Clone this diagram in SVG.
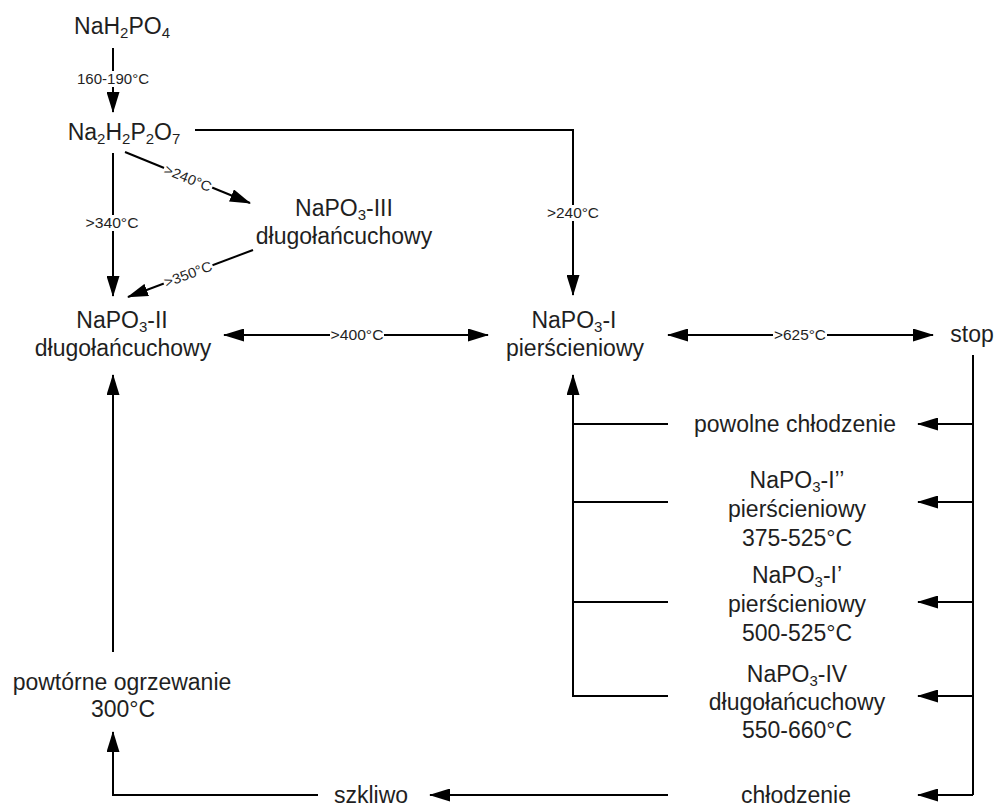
<svg xmlns="http://www.w3.org/2000/svg" width="995" height="807" viewBox="0 0 995 807">
<style>
.t{font-family:"Liberation Sans",Arial,sans-serif;font-size:23px;fill:#1f1f1f;text-anchor:middle}
.s{font-family:"Liberation Sans",Arial,sans-serif;font-size:14px;fill:#1f1f1f;text-anchor:middle}
.bg{fill:#fff}
.c{fill:none;stroke:#000;stroke-width:2}
.a{marker-end:url(#ah)}
.d{marker-end:url(#ah);marker-start:url(#ah)}
</style>
<defs>
<marker id="ah" viewBox="0 0 21 13" refX="20" refY="6.5" markerWidth="21" markerHeight="13" markerUnits="userSpaceOnUse" orient="auto-start-reverse">
<path d="M0,0 L21,6.5 L0,13 z" fill="#000"/>
</marker>
</defs>
<rect width="995" height="807" fill="#fff"/>
<g id="connectors">
<path class="c a" d="M113,48 L113,112"/>
<path class="c a" d="M113,153 L113,296"/>
<path class="c a" d="M195,130 L573,130 L573,295"/>
<path class="c a" d="M125,152 L250,203"/>
<path class="c a" d="M253,250 L128,297"/>
<path class="c d" d="M224,335 L488,335"/>
<path class="c d" d="M668,335 L933,335"/>
<path class="c" d="M973,355 L973,795"/>
<path class="c a" d="M973,424 L918,424"/>
<path class="c a" d="M973,502 L918,502"/>
<path class="c a" d="M973,602 L918,602"/>
<path class="c a" d="M973,696 L918,696"/>
<path class="c a" d="M973,795 L918,795"/>
<path class="c" d="M668,424 L573,424 M668,502 L573,502 M668,602 L573,602"/>
<path class="c a" d="M668,696 L573,696 L573,375"/>
<path class="c a" d="M668,795 L430,795"/>
<path class="c a" d="M318,795 L113,795 L113,732"/>
<path class="c a" d="M113,652 L113,375"/>
<g transform="translate(113,79)"><rect class="bg" x="-38" y="-8" width="76" height="16"/><text class="s" y="5" textLength="72" lengthAdjust="spacingAndGlyphs">160-190°C</text></g>
<g transform="translate(112,223)"><rect class="bg" x="-29" y="-8" width="58" height="16"/><text class="s" y="5" textLength="53" lengthAdjust="spacingAndGlyphs">&gt;340°C</text></g>
<g transform="translate(573,213)"><rect class="bg" x="-28" y="-8" width="56" height="16"/><text class="s" y="5" textLength="52" lengthAdjust="spacingAndGlyphs">&gt;240°C</text></g>
<g transform="translate(357,335)"><rect class="bg" x="-27" y="-8" width="54" height="16"/><text class="s" y="5" textLength="53" lengthAdjust="spacingAndGlyphs">&gt;400°C</text></g>
<g transform="translate(800,335)"><rect class="bg" x="-27" y="-8" width="54" height="16"/><text class="s" y="5" textLength="52" lengthAdjust="spacingAndGlyphs">&gt;625°C</text></g>
<g transform="translate(188,178) rotate(22.2)"><rect class="bg" x="-26" y="-8" width="52" height="16"/><text class="s" y="5" textLength="50" lengthAdjust="spacingAndGlyphs">&gt;240°C</text></g>
<g transform="translate(188,274) rotate(-20.6)"><rect class="bg" x="-26" y="-8" width="52" height="16"/><text class="s" y="5" textLength="50" lengthAdjust="spacingAndGlyphs">&gt;350°C</text></g>
</g>
<g id="n-nah2po4"><text class="t" x="122" y="34">NaH<tspan font-size="15" dy="4">2</tspan><tspan dy="-4">PO</tspan><tspan font-size="15" dy="4">4</tspan></text></g>
<g id="n-na2h2p2o7"><text class="t" x="124" y="140">Na<tspan font-size="15" dy="4">2</tspan><tspan dy="-4">H</tspan><tspan font-size="15" dy="4">2</tspan><tspan dy="-4">P</tspan><tspan font-size="15" dy="4">2</tspan><tspan dy="-4">O</tspan><tspan font-size="15" dy="4">7</tspan></text></g>
<g id="n-napo3-iii"><text class="t" x="344" y="216">NaPO<tspan font-size="15" dy="4">3</tspan><tspan dy="-4">-III</tspan></text><text class="t" x="344" y="244">długołańcuchowy</text></g>
<g id="n-napo3-ii"><text class="t" x="122" y="328">NaPO<tspan font-size="15" dy="4">3</tspan><tspan dy="-4">-II</tspan></text><text class="t" x="123" y="356">długołańcuchowy</text></g>
<g id="n-napo3-i"><text class="t" x="574" y="328">NaPO<tspan font-size="15" dy="4">3</tspan><tspan dy="-4">-I</tspan></text><text class="t" x="575" y="356">pierścieniowy</text></g>
<g id="n-stop"><text class="t" x="972" y="342">stop</text></g>
<g id="n-powolne"><text class="t" x="795" y="432">powolne chłodzenie</text></g>
<g id="n-napo3-i2"><text class="t" x="797" y="488">NaPO<tspan font-size="15" dy="4">3</tspan><tspan dy="-4">-I’’</tspan></text><text class="t" x="797" y="517">pierścieniowy</text><text class="t" x="797" y="546">375-525°C</text></g>
<g id="n-napo3-i1"><text class="t" x="797" y="583">NaPO<tspan font-size="15" dy="4">3</tspan><tspan dy="-4">-I’</tspan></text><text class="t" x="797" y="612">pierścieniowy</text><text class="t" x="797" y="641">500-525°C</text></g>
<g id="n-napo3-iv"><text class="t" x="797" y="682">NaPO<tspan font-size="15" dy="4">3</tspan><tspan dy="-4">-IV</tspan></text><text class="t" x="797" y="710">długołańcuchowy</text><text class="t" x="797" y="738">550-660°C</text></g>
<g id="n-chlodzenie"><text class="t" x="796" y="803">chłodzenie</text></g>
<g id="n-szkliwo"><text class="t" x="371" y="803">szkliwo</text></g>
<g id="n-powtorne"><text class="t" x="122" y="690">powtórne ogrzewanie</text><text class="t" x="123" y="717">300°C</text></g>
</svg>
